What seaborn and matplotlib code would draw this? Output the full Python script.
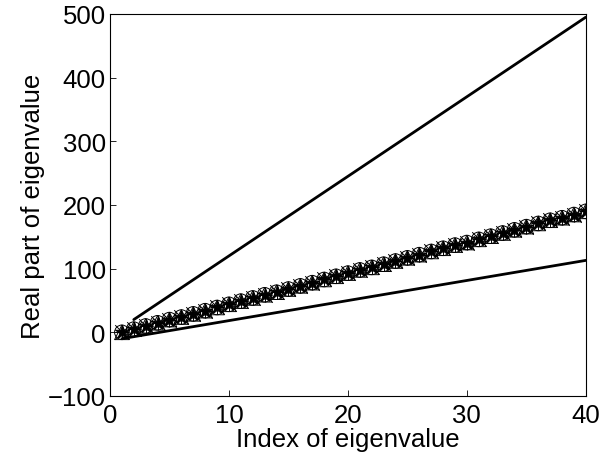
import numpy as np
import pandas as pd
import seaborn as sns
import matplotlib.pyplot as plt

# eigenvalue index and real parts
idx = list(range(1, 41))
real_part = [0, 5, 10, 15, 20, 24, 29, 34, 39, 44,
             49, 54, 59, 63, 68, 73, 78, 83, 88, 93,
             98, 102, 107, 112, 117, 122, 127, 132, 137, 141,
             146, 151, 156, 161, 166, 171, 176, 180, 185, 190]

# bounding lines (end points)
upper_x = [2, 40]
upper_y = [20, 495]
lower_x = [1, 40]
lower_y = [-10, 113]

marker_set = ["o", "^", "*", "x", "+"]

sns.set_style("white")
plt.rcParams['font.family'] = ['Liberation Sans', 'DejaVu Sans']
plt.rcParams['axes.linewidth'] = 0.8
plt.rcParams['text.color'] = 'black'
plt.rcParams['axes.labelcolor'] = 'black'
plt.rcParams['xtick.color'] = 'black'
plt.rcParams['ytick.color'] = 'black'

fig = plt.figure(figsize=(5.99, 4.64), dpi=100)
ax = fig.add_axes([0.1836, 0.1444, 0.7944, 0.8233])

sns.lineplot(x=upper_x, y=upper_y, color="black", linewidth=2.0, ax=ax)
sns.lineplot(x=lower_x, y=lower_y, color="black", linewidth=2.0, ax=ax)

df = pd.DataFrame({"idx": idx, "val": real_part})
for m in marker_set:
    filled = m in ("o", "^")
    sns.scatterplot(data=df, x="idx", y="val", marker=m, s=110,
                    facecolor="none" if filled else "black",
                    edgecolor="black", linewidth=0.7, ax=ax, zorder=3)

ax.set_xlim(0, 40)
ax.set_ylim(-100, 500)
ax.set_xticks([0, 10, 20, 30, 40])
ax.set_yticks([-100, 0, 100, 200, 300, 400, 500])
ax.set_yticklabels(["\u2212100", "0", "100", "200", "300", "400", "500"])
ax.tick_params(axis="x", pad=5)
ax.tick_params(direction="in", length=4, width=0.6, labelsize=18.5,
               bottom=True, left=True)
ax.tick_params(axis="y", pad=3)
ax.set_xlabel("Index of eigenvalue", fontsize=18.5, labelpad=0)
ax.set_ylabel("Real part of eigenvalue", fontsize=18.5, labelpad=2)
for sp in ax.spines.values():
    sp.set_color("black")

fig.savefig("out.png", dpi=100)
